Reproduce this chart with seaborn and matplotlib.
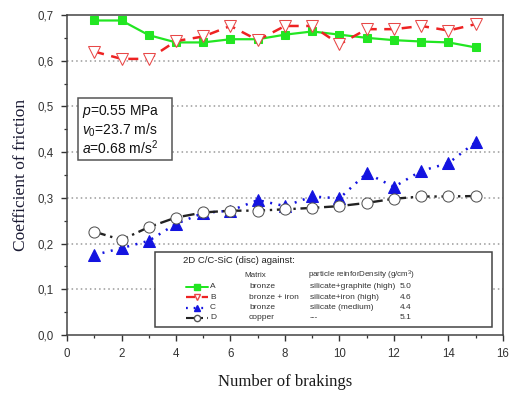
import matplotlib
matplotlib.use("Agg")
import matplotlib.pyplot as plt
import seaborn as sns
import numpy as np
import pandas as pd
from matplotlib.lines import Line2D
from matplotlib.patches import Rectangle
from matplotlib.ticker import MultipleLocator, FuncFormatter

# ---- data ----
brakings = list(range(1, 16))
cof_A = [0.688, 0.688, 0.656, 0.640, 0.640, 0.647, 0.647, 0.657, 0.664, 0.657, 0.650, 0.645, 0.642, 0.640, 0.629]
cof_B = [0.620, 0.604, 0.604, 0.643, 0.653, 0.676, 0.645, 0.676, 0.676, 0.636, 0.669, 0.669, 0.676, 0.666, 0.680]
cof_C = [0.175, 0.190, 0.206, 0.243, 0.267, 0.272, 0.295, 0.282, 0.303, 0.299, 0.354, 0.324, 0.359, 0.376, 0.422]
cof_D = [0.226, 0.208, 0.236, 0.257, 0.268, 0.272, 0.272, 0.275, 0.278, 0.282, 0.289, 0.298, 0.303, 0.303, 0.304]
series_names = ["A", "B", "C", "D"]
matrix_col = ["bronze", "bronze + iron", "bronze", "copper"]
particle_col = ["silicate+graphite (high)", "silicate+iron (high)", "silicate (medium)", "---"]
density_col = ["5.0", "4.6", "4.4", "5.1"]
x_ticks = list(range(0, 17, 2))
y_ticks = [0.0, 0.1, 0.2, 0.3, 0.4, 0.5, 0.6, 0.7]

sns.set_style("ticks")
plt.rcParams['font.family'] = ['Liberation Sans', 'DejaVu Sans']
plt.rcParams['mathtext.fontset'] = 'custom'
plt.rcParams['mathtext.rm'] = 'Liberation Sans'
plt.rcParams['mathtext.it'] = 'Liberation Sans:italic'

df = pd.DataFrame({
    "x": brakings * 4,
    "y": cof_A + cof_B + cof_C + cof_D,
    "s": sum([[n] * len(brakings) for n in series_names], []),
})

fig = plt.figure(figsize=(5.09, 3.94), dpi=100)
ax = fig.add_axes([67/509, 1-335/394, 436/509, 320/394])

styles = {
    "A": dict(color="#22e622", marker="s", markersize=6.0, markerfacecolor="#22e622",
              markeredgecolor="#22e622", linestyle="-", linewidth=1.6, dashes=()),
    "B": dict(color="#ee2222", marker="v", markersize=8, markerfacecolor="white",
              markeredgecolor="#e84848", linewidth=1.8, dashes=(4, 3)),
    "C": dict(color="#1414e0", marker="^", markersize=8, markerfacecolor="#1414e0",
              markeredgecolor="#1414e0", linewidth=1.8, dashes=(0.8, 2.6)),
    "D": dict(color="#222222", marker="o", markersize=8, markerfacecolor="white",
              markeredgecolor="#555555", linewidth=1.7, dashes=(5, 2, 1, 2)),
}
zorders = {"A": 3, "B": 3, "C": 3, "D": 4}
for name in series_names:
    sub = df[df.s == name]
    kw = dict(styles[name])
    d = kw.pop("dashes")
    ls = kw.pop("linestyle", "-")
    sns.lineplot(data=sub, x="x", y="y", ax=ax, zorder=zorders[name], **kw)
    ln = ax.lines[-1]
    if d:
        ln.set_dashes(d)
    else:
        ln.set_linestyle(ls)

ax.set_xlim(0, 16)
ax.set_ylim(0, 0.7)
ax.set_xticks(x_ticks)
ax.set_yticks(y_ticks)
ax.xaxis.set_minor_locator(MultipleLocator(1))
ax.yaxis.set_minor_locator(MultipleLocator(0.05))
ax.yaxis.set_major_formatter(FuncFormatter(lambda v, p: f"{v:.1f}".replace(".", ",")))
ax.tick_params(axis="both", which="major", direction="out", length=4.5, width=1,
               labelsize=8.3, colors="#333333")
ax.tick_params(axis="x", which="major", pad=5)
ax.tick_params(axis="y", which="major", pad=5)
ax.tick_params(axis="both", which="minor", direction="out", length=2.5, width=0.9, colors="#333333")
for v in y_ticks[1:-1]:
    ax.axhline(v, color="#9a9a9a", linewidth=1.1, dashes=(1, 2), zorder=1)
for sp in ax.spines.values():
    sp.set_visible(True)
    sp.set_color("#444444")
    sp.set_linewidth(1.1)

ax.set_xlabel("Number of brakings", family="Liberation Serif", fontsize=12, color="#1a1a1a", labelpad=10)
ax.set_ylabel("Coefficient of friction", family="Liberation Serif", fontsize=12.5, color="#1a1a33", labelpad=6)

T = ax.transAxes
def fx(px):
    return (px - 67) / 436
def fy(py):
    return (335 - py) / 320

# condition box
ax.add_patch(Rectangle((fx(77.7), fy(160)), fx(172) - fx(77.7), fy(98) - fy(160), transform=T,
                       facecolor="white", edgecolor="#555555", linewidth=1.1, zorder=5))
cond = [r"$p$=0.55 MPa", r"$v_{\mathrm{0}}$=23.7 m/s", r"$a$=0.68 m/s$^{\mathrm{2}}$"]
for txt, py in zip(cond, [112, 130.5, 148]):
    ax.text(fx(82), fy(py), txt, transform=T, fontsize=10, ha="left", va="center", color="#111111", zorder=6)

# legend box
ax.add_patch(Rectangle((fx(155), fy(327)), fx(492) - fx(155), fy(252.3) - fy(327), transform=T,
                       facecolor="white", edgecolor="#444444", linewidth=1.1, zorder=5))
tc = "#333333"
ax.text(fx(183), fy(260.5), "2D C/C-SiC (disc) against:", transform=T, fontsize=6.8, ha="left",
        va="center", color="#222222", zorder=6)
ax.text(fx(244), fy(275.5), "Matrix", transform=T, fontsize=5.8, ha="left", va="center", color=tc, zorder=6)
ax.text(fx(308), fy(275.5), r"particle reinforDensity (g/cm$^{\mathrm{3}}$)", transform=T, fontsize=5.8,
        ha="left", va="center", color=tc, zorder=6)
row_y = [287, 297.3, 307.7, 317.7]
for i, name in enumerate(series_names):
    st = styles[name]
    yy = fy(row_y[i])
    h = Line2D([fx(186), fx(208)], [yy, yy], transform=T, color=st["color"], linewidth=st["linewidth"] * 0.9,
               zorder=6)
    if st["dashes"]:
        h.set_dashes(st["dashes"])
    ax.add_line(h)
    m = Line2D([fx(197)], [yy], transform=T, marker=st["marker"], markersize=4.5,
               markerfacecolor=st["markerfacecolor"], markeredgecolor=st["markeredgecolor"],
               linestyle="none", zorder=7)
    ax.add_line(m)
    ax.text(fx(210), yy, name, transform=T, fontsize=6.0, ha="left", va="center", color=tc, zorder=6)
    ax.text(fx(249), yy, matrix_col[i], transform=T, fontsize=6.0, ha="left", va="center", color=tc, zorder=6)
    ax.text(fx(310), yy, particle_col[i], transform=T, fontsize=6.0, ha="left", va="center", color=tc, zorder=6)
    ax.text(fx(400), yy, density_col[i], transform=T, fontsize=6.0, ha="left", va="center", color=tc, zorder=6)

fig.savefig("out.png", dpi=100)
